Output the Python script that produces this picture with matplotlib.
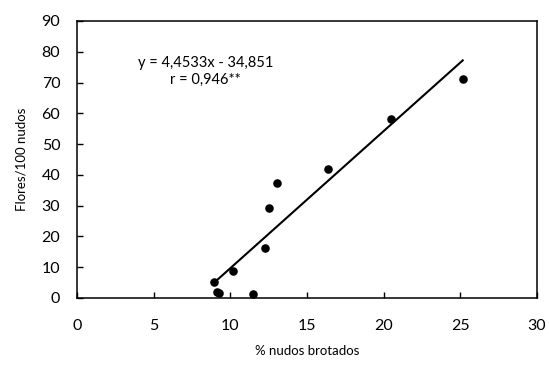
import matplotlib
matplotlib.use("Agg")
import matplotlib.pyplot as plt
import numpy as np

x_vals = [8.96, 9.15, 9.25, 10.2, 11.46, 12.26, 12.5, 13.07, 16.35, 20.48, 25.16]
y_vals = [5.1, 2.0, 1.7, 8.8, 1.3, 16.3, 29.3, 37.4, 41.8, 58.2, 71.2]
slope = 4.4533
intercept = -34.851
eq_text = "y = 4,4533x - 34,851"
r_text = "r = 0,946**"
x_ticks = [0, 5, 10, 15, 20, 25, 30]
y_ticks = [0, 10, 20, 30, 40, 50, 60, 70, 80, 90]

plt.rcParams['font.family'] = ['Lato', 'DejaVu Sans']

fig = plt.figure(figsize=(5.49, 3.65), dpi=100)
ax = fig.add_axes([0.1403, 0.1836, 0.8377, 0.7589])

ax.scatter(x_vals, y_vals, s=38, color='black', zorder=3, linewidths=0)
xl = np.array([min(x_vals), max(x_vals)])
ax.plot(xl, slope * xl + intercept, color='black', lw=1.5, zorder=2)

ax.set_xlim(0, 30)
ax.set_ylim(0, 90)
ax.set_xticks(x_ticks)
ax.set_yticks(y_ticks)
ax.tick_params(direction='in', length=4, width=1, labelsize=11.5)
ax.tick_params(axis='x', pad=15)
ax.tick_params(axis='y', pad=12)
for s in ax.spines.values():
    s.set_linewidth(1.1)

ax.set_xlabel("% nudos brotados", fontsize=9.5, labelpad=9)
ax.set_ylabel("Flores/100 nudos", fontsize=9.5, labelpad=10)

ax.text(8.4, 76.5, eq_text, fontsize=10.5, ha='center', va='center')
ax.text(8.4, 70.8, r_text, fontsize=10.5, ha='center', va='center')

fig.savefig("out.png", dpi=100)
